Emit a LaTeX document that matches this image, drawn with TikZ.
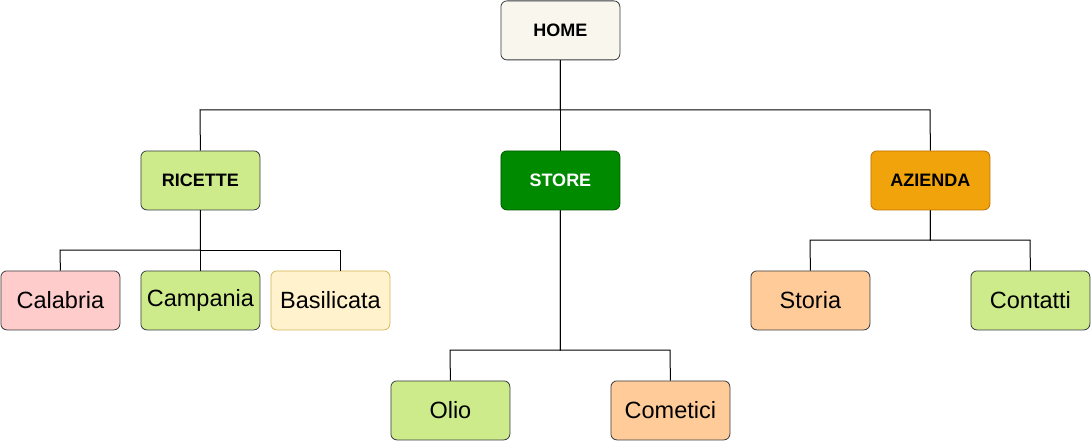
\documentclass[tikz,border=0pt]{standalone}
\usepackage{fontspec}
\setmainfont{Liberation Sans}
\definecolor{homefill}{HTML}{F9F7ED}
\definecolor{darkstroke}{HTML}{36393D}
\definecolor{storefill}{HTML}{008A00}
\definecolor{storestroke}{HTML}{005700}
\definecolor{azfill}{HTML}{F0A30A}
\definecolor{azstroke}{HTML}{BD7000}
\definecolor{greenfill}{HTML}{CDEB8B}
\definecolor{pinkfill}{HTML}{FFCCCC}
\definecolor{yellowfill}{HTML}{FFF2CC}
\definecolor{yellowstroke}{HTML}{D6B656}
\definecolor{orangefill}{HTML}{FFCC99}
\tikzset{
  box/.style={rectangle, rounded corners=6pt, minimum width=119pt, minimum height=59pt, inner sep=0pt, line width=0.8pt, draw=darkstroke, anchor=north west},
  bigtxt/.style={font=\fontsize{23.5}{27}\selectfont},
  boldtxt/.style={font=\fontsize{18}{21}\selectfont\bfseries},
  conn/.style={line width=1pt, black},
}
\begin{document}
\begin{tikzpicture}[x=1pt,y=-1pt]
\useasboundingbox (0,0) rectangle (1091,441);
\node[box, boldtxt, fill=homefill] (home) at (500.5,0.5) {HOME};
\node[box, boldtxt, fill=greenfill] (ricette) at (140.5,150.5) {RICETTE};
\node[box, boldtxt, fill=storefill, draw=storestroke, text=white] (store) at (500.5,150.5) {STORE};
\node[box, boldtxt, fill=azfill, draw=azstroke] (azienda) at (870.5,150.5) {AZIENDA};
\node[box, bigtxt, fill=pinkfill] (calabria) at (0.5,270.5) {Calabria};
\node[box, bigtxt, fill=greenfill] (campania) at (140.5,270.5) {Campania};
\node[box, bigtxt, fill=yellowfill, draw=yellowstroke] (basilicata) at (270.5,270.5) {Basilicata};
\node[box, bigtxt, fill=orangefill] (storia) at (750.5,270.5) {Storia};
\node[box, bigtxt, fill=greenfill] (contatti) at (970.5,270.5) {Contatti};
\node[box, bigtxt, fill=greenfill] (olio) at (390.5,380.5) {Olio};
\node[box, bigtxt, fill=orangefill] (cometici) at (610.5,380.5) {Cometici};
\coordinate (bx) at (340,0);
% connectors
\draw[conn] (home.south) |- (200,110) -- (ricette.north);
\draw[conn] (home.south) -- (store.north);
\draw[conn] (home.south) |- (930,110) -- (azienda.north);
\draw[conn] (ricette.south) |- (60,250) -- (calabria.north);
\draw[conn] (ricette.south) -- (campania.north);
\draw[conn] (ricette.south) |- (340,250) -- (basilicata.north -| bx);
\draw[conn] (store.south) |- (450,350) -- (olio.north);
\draw[conn] (store.south) |- (670,350) -- (cometici.north);
\draw[conn] (azienda.south) |- (810,240) -- (storia.north);
\draw[conn] (azienda.south) |- (1030,240) -- (contatti.north);
\end{tikzpicture}
\end{document}
